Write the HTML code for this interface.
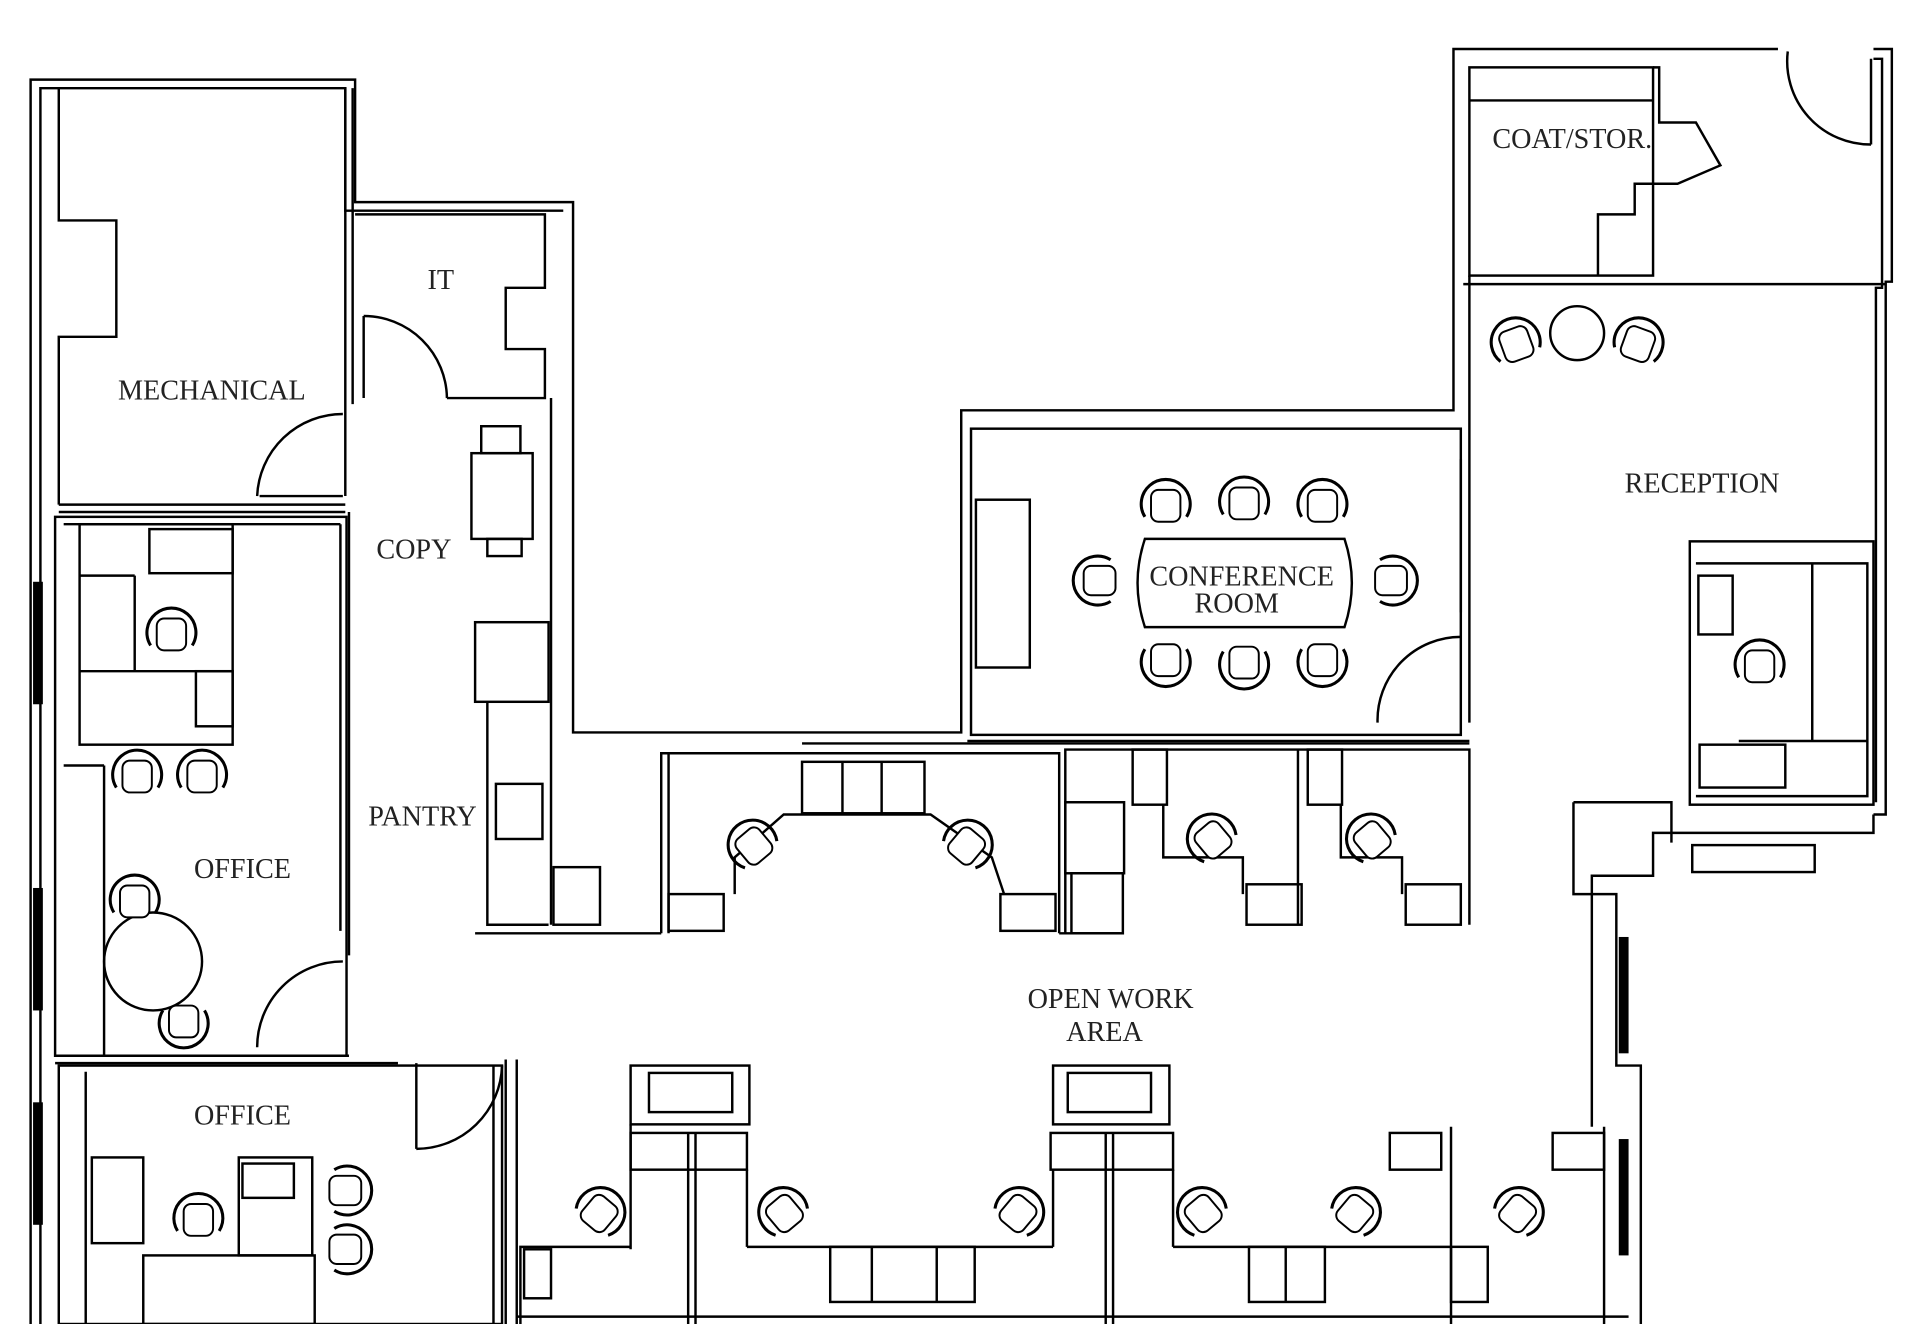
<!DOCTYPE html>
<html><head><meta charset="utf-8"><style>
html,body{margin:0;padding:0;background:#fff;}
svg{display:block;}
text{font-family:"Liberation Serif",serif;font-size:23px;fill:#222;}
</style></head><body>
<svg width="1920" height="1324" viewBox="0 0 1568 1081" preserveAspectRatio="none" xmlns="http://www.w3.org/2000/svg">
<defs>
<g id="ch"><path d="M-17,10 A20,20 0 1 1 17,10" fill="none" stroke="#000" stroke-width="2.5"/><rect x="-12" y="-12" width="24" height="26" rx="6" fill="#fff" stroke="#000" stroke-width="1.6"/></g>
</defs>
<g fill="none" stroke="#000" stroke-width="2">
<!-- outer left wall -->
<polyline points="25,1081 25,65 290,65 290,165 468,165 468,598 785,598 785,335 1187,335 1187,40 1452,40"/>
<polyline points="33,1081 33,72 282,72 282,172 460,172"/>
<polyline points="1530,40 1545,40 1545,230 1540,230 1540,665 1530,665"/>
<polyline points="1530,48 1537,48 1537,235 1532,235 1532,655"/>
<!-- mechanical -->
<polyline points="48,72 48,180 95,180 95,275 48,275 48,412"/>
<line x1="48" y1="412" x2="282" y2="412"/><line x1="48" y1="418" x2="282" y2="418"/>
<line x1="282" y1="72" x2="282" y2="405"/><line x1="288" y1="72" x2="288" y2="330"/>
<path d="M210,405 A70,70 0 0 1 280,338" /><line x1="212" y1="405" x2="280" y2="405"/>
<!-- IT -->
<polyline points="290,175 445,175 445,235 413,235 413,285 445,285 445,325 365,325"/>
<path d="M297,258 A68,68 0 0 1 365,325"/><line x1="297" y1="258" x2="297" y2="325"/>
<polyline points="450,325 450,755"/>
<!-- office 1 -->
<rect x="45" y="422" width="238" height="440"/>
<line x1="52" y1="428" x2="278" y2="428"/><line x1="278" y1="428" x2="278" y2="760"/>
<line x1="285" y1="418" x2="285" y2="780"/>
<path d="M210,855 A70,70 0 0 1 280,785"/>
<line x1="45" y1="862" x2="285" y2="862"/><line x1="45" y1="868" x2="325" y2="868"/>
<rect x="65" y="428" width="125" height="180"/><rect x="122" y="432" width="68" height="36"/>
<line x1="65" y1="470" x2="110" y2="470"/><line x1="110" y1="470" x2="110" y2="548"/><line x1="65" y1="548" x2="190" y2="548"/>
<rect x="160" y="548" width="30" height="45"/>
<line x1="52" y1="625" x2="85" y2="625"/><line x1="85" y1="625" x2="85" y2="862"/>
<circle cx="125" cy="785" r="40"/>
<!-- office 2 -->
<rect x="48" y="870" width="362" height="211"/>
<line x1="70" y1="875" x2="70" y2="1081"/>
<rect x="75" y="945" width="42" height="70"/><rect x="117" y="1025" width="140" height="56"/>
<rect x="195" y="945" width="60" height="80"/><rect x="198" y="950" width="42" height="28"/>
<path d="M340,938 A70,70 0 0 0 410,870"/><line x1="340" y1="868" x2="340" y2="938"/>
<line x1="403" y1="870" x2="403" y2="1081"/><line x1="413" y1="865" x2="413" y2="1081"/><line x1="422" y1="865" x2="422" y2="1081"/>
<!-- copy / pantry -->
<rect x="385" y="370" width="50" height="70"/><rect x="393" y="348" width="32" height="22"/><rect x="398" y="440" width="28" height="14"/>
<rect x="388" y="508" width="60" height="65"/>
<polyline points="398,573 398,755 448,755"/>
<rect x="405" y="640" width="38" height="45"/>
<rect x="452" y="708" width="38" height="47"/>
<line x1="388" y1="762" x2="540" y2="762"/>
<!-- conference -->
<rect x="793" y="350" width="400" height="250"/>
<rect x="797" y="408" width="44" height="137"/>
<path d="M935,440 L1098,440 Q1110,476 1098,512 L935,512 Q923,476 935,440 Z"/>
<line x1="1193" y1="375" x2="1193" y2="500"/>
<path d="M1125,590 A68,68 0 0 1 1193,520"/>
<line x1="790" y1="605" x2="1200" y2="605"/>
<!-- coat/stor -->
<rect x="1200" y="55" width="150" height="170"/><line x1="1200" y1="82" x2="1350" y2="82"/>
<polyline points="1350,55 1355,55 1355,100 1385,100 1405,135 1370,150 1335,150 1335,175 1305,175 1305,225"/>
<line x1="1195" y1="232" x2="1540" y2="232"/><line x1="1200" y1="225" x2="1200" y2="590"/>
<path d="M1460,42 A68,68 0 0 0 1528,118"/><line x1="1528" y1="48" x2="1528" y2="118"/>
<circle cx="1288" cy="272" r="22"/>
<!-- reception desk -->
<rect x="1380" y="442" width="150" height="215"/>
<polyline points="1385,460 1525,460 1525,650 1385,650"/><rect x="1387" y="470" width="28" height="48"/>
<line x1="1480" y1="460" x2="1480" y2="605"/><line x1="1420" y1="605" x2="1525" y2="605"/>
<rect x="1388" y="608" width="70" height="35"/>
<polyline points="1530,665 1530,680 1350,680 1350,715 1300,715 1300,920"/>
<polyline points="1285,655 1365,655 1365,688"/><polyline points="1285,655 1285,730 1320,730 1320,870 1340,870 1340,1081"/>
<rect x="1382" y="690" width="100" height="22"/>
<!-- top cubicles -->
<polyline points="540,762 540,615 865,615 865,762"/><line x1="546" y1="615" x2="546" y2="762"/>
<line x1="655" y1="607" x2="1200" y2="607"/>
<rect x="655" y="622" width="100" height="42"/><line x1="688" y1="622" x2="688" y2="664"/><line x1="720" y1="622" x2="720" y2="664"/>
<polyline points="600,730 600,700 640,665 760,665 810,700 820,730"/>
<rect x="546" y="730" width="45" height="30"/><rect x="817" y="730" width="45" height="30"/>
<polyline points="870,762 870,612 1200,612 1200,755"/>
<rect x="870" y="655" width="48" height="58"/><rect x="875" y="713" width="42" height="49"/>
<line x1="1060" y1="612" x2="1060" y2="755"/><rect x="925" y="612" width="28" height="45"/><rect x="1068" y="612" width="28" height="45"/>
<polyline points="950,657 950,700 1015,700 1015,730"/><polyline points="1095,657 1095,700 1145,700 1145,730"/>
<rect x="1018" y="722" width="45" height="33"/><rect x="1148" y="722" width="45" height="33"/>
<line x1="865" y1="762" x2="915" y2="762"/>
<!-- bottom cubicles -->
<line x1="422" y1="1075" x2="1330" y2="1075"/>
<rect x="515" y="870" width="97" height="48"/><rect x="530" y="876" width="68" height="32"/>
<rect x="860" y="870" width="95" height="48"/><rect x="872" y="876" width="68" height="32"/>
<line x1="515" y1="918" x2="515" y2="1020"/><line x1="562" y1="925" x2="562" y2="1081"/><line x1="568" y1="925" x2="568" y2="1081"/>
<rect x="515" y="925" width="95" height="30"/><rect x="858" y="925" width="100" height="30"/>
<line x1="903" y1="925" x2="903" y2="1081"/><line x1="909" y1="925" x2="909" y2="1081"/>
<polyline points="425,1081 425,1018 515,1018"/><rect x="428" y="1020" width="22" height="40"/>
<line x1="610" y1="955" x2="610" y2="1018"/><line x1="610" y1="1018" x2="860" y2="1018"/><line x1="860" y1="955" x2="860" y2="1018"/>
<rect x="678" y="1018" width="118" height="45"/><line x1="712" y1="1018" x2="712" y2="1063"/><line x1="765" y1="1018" x2="765" y2="1063"/>
<line x1="958" y1="955" x2="958" y2="1018"/><line x1="958" y1="1018" x2="1185" y2="1018"/>
<rect x="1020" y="1018" width="62" height="45"/><line x1="1050" y1="1018" x2="1050" y2="1063"/>
<rect x="1135" y="925" width="42" height="30"/><line x1="1185" y1="920" x2="1185" y2="1081"/>
<rect x="1268" y="925" width="42" height="30"/><line x1="1310" y1="920" x2="1310" y2="1081"/>
<rect x="1185" y="1018" width="30" height="45"/>
</g>
<!-- window hatches -->
<g fill="#000">
<rect x="27" y="475" width="8" height="100"/><rect x="27" y="725" width="8" height="100"/><rect x="27" y="900" width="8" height="100"/>
<rect x="1322" y="765" width="8" height="95"/><rect x="1322" y="930" width="8" height="95"/>
</g>
<!-- chairs -->
<use href="#ch" x="140" y="517"/><use href="#ch" x="112" y="633"/><use href="#ch" x="165" y="633"/>
<use href="#ch" x="110" y="735"/><use href="#ch" x="150" y="835" transform="rotate(180 150 835)"/>
<use href="#ch" x="162" y="995"/><use href="#ch" x="283" y="972" transform="rotate(90 283 972)"/><use href="#ch" x="283" y="1020" transform="rotate(90 283 1020)"/>
<use href="#ch" x="952" y="412"/><use href="#ch" x="1016" y="410"/><use href="#ch" x="1080" y="412"/>
<use href="#ch" x="952" y="540" transform="rotate(180 952 540)"/><use href="#ch" x="1016" y="542" transform="rotate(180 1016 542)"/><use href="#ch" x="1080" y="540" transform="rotate(180 1080 540)"/>
<use href="#ch" x="897" y="474" transform="rotate(-90 897 474)"/><use href="#ch" x="1137" y="474" transform="rotate(90 1137 474)"/>
<use href="#ch" x="1238" y="280" transform="rotate(-20 1238 280)"/><use href="#ch" x="1338" y="280" transform="rotate(20 1338 280)"/>
<use href="#ch" x="1437" y="543"/>
<use href="#ch" x="615" y="690" transform="rotate(-40 615 690)"/><use href="#ch" x="790" y="690" transform="rotate(40 790 690)"/>
<use href="#ch" x="990" y="685" transform="rotate(-40 990 685)"/><use href="#ch" x="1120" y="685" transform="rotate(-40 1120 685)"/>
<use href="#ch" x="490" y="990" transform="rotate(40 490 990)"/><use href="#ch" x="640" y="990" transform="rotate(-40 640 990)"/>
<use href="#ch" x="832" y="990" transform="rotate(40 832 990)"/><use href="#ch" x="982" y="990" transform="rotate(-40 982 990)"/>
<use href="#ch" x="1107" y="990" transform="rotate(40 1107 990)"/><use href="#ch" x="1240" y="990" transform="rotate(40 1240 990)"/>
<!-- labels -->
<text x="173" y="326" text-anchor="middle">MECHANICAL</text>
<text x="360" y="236" text-anchor="middle">IT</text>
<text x="338" y="456" text-anchor="middle">COPY</text>
<text x="345" y="674" text-anchor="middle">PANTRY</text>
<text x="198" y="717" text-anchor="middle">OFFICE</text>
<text x="198" y="918" text-anchor="middle">OFFICE</text>
<text x="1014" y="478" text-anchor="middle">CONFERENCE</text>
<text x="1010" y="500" text-anchor="middle">ROOM</text>
<text x="1284" y="121" text-anchor="middle">COAT/STOR.</text>
<text x="1390" y="402" text-anchor="middle">RECEPTION</text>
<text x="907" y="823" text-anchor="middle">OPEN WORK</text>
<text x="902" y="850" text-anchor="middle">AREA</text>
</svg>
</body></html>
